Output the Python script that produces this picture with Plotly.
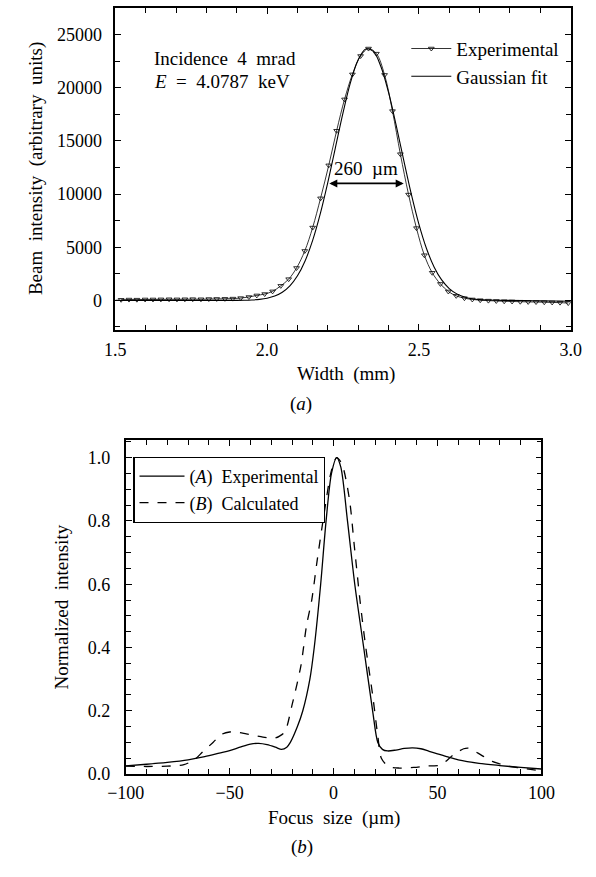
import plotly.graph_objects as go

# ---------------- Panel (a) data ----------------
exp_x = [1.519, 1.545, 1.571, 1.598, 1.624, 1.650, 1.677, 1.703, 1.729, 1.755,
         1.782, 1.808, 1.834, 1.861, 1.887, 1.913, 1.940, 1.966, 1.992, 2.018,
         2.045, 2.071, 2.097, 2.124, 2.150, 2.176, 2.203, 2.229, 2.255, 2.281,
         2.308, 2.334, 2.360, 2.387, 2.413, 2.439, 2.466, 2.492, 2.518, 2.544,
         2.571, 2.597, 2.623, 2.650, 2.676, 2.702, 2.729, 2.755, 2.781, 2.807,
         2.834, 2.860, 2.886, 2.913, 2.939, 2.965, 2.992]
exp_y = [60, 80, 70, 90, 90, 100, 110, 100, 110, 120,
         110, 130, 140, 150, 170, 220, 320, 470, 600, 850,
         1370, 2000, 3050, 4650, 6850, 9600, 12700, 15950, 18900, 21250,
         22980, 23680, 23200, 21200, 17800, 13750, 9950, 6800, 4250, 2600,
         1550, 840, 430, 210, 90, 20, -20, -50, -80, -100,
         -120, -140, -150, -170, -190, -210, -250]

fit_x = [1.500, 1.550, 1.600, 1.650, 1.700, 1.750, 1.800, 1.850, 1.900, 1.925,
         1.950, 1.975, 2.000, 2.025, 2.050, 2.075, 2.100, 2.125, 2.150, 2.175,
         2.200, 2.225, 2.250, 2.275, 2.300, 2.325, 2.350, 2.375, 2.400, 2.425,
         2.450, 2.475, 2.500, 2.525, 2.550, 2.575, 2.600, 2.625, 2.650, 2.675,
         2.700, 2.725, 2.750, 2.800, 2.850, 2.900, 2.950, 3.000]
fit_y = [0, 0, 0, 0, 0, 0, 0, 0, 8, 19,
         44, 98, 205, 406, 765, 1367, 2312, 3708, 5640, 8129,
         11103, 14375, 17640, 20517, 22619, 23635, 23409, 21974, 19553, 16488,
         13180, 9985, 7171, 4880, 3149, 1925, 1116, 613, 319, 158,
         74, 33, 14, 0, -20, -40, -60, -80]

# ---------------- Panel (b) data ----------------
a_x = [-100, -90, -80, -70, -62, -55, -50, -45, -40, -36, -32, -28, -25, -22.5,
       -20.8, -17.4, -14.8, -11.4, -9.3, -6.2, -3.6, -1, 1.5, 3.5, 6.7, 10.2,
       14.5, 18.8, 21.3, 23.5, 26, 30, 34, 38, 42, 46, 50, 55, 60, 70, 80, 90, 100]
a_y = [0.026, 0.031, 0.037, 0.045, 0.055, 0.066, 0.074, 0.085, 0.095, 0.097,
       0.093, 0.085, 0.078, 0.085, 0.10, 0.15, 0.20, 0.30, 0.40, 0.60, 0.80,
       0.95, 1.0, 0.97, 0.80, 0.60, 0.40, 0.20, 0.10, 0.078, 0.073, 0.076,
       0.081, 0.083, 0.080, 0.072, 0.064, 0.054, 0.045, 0.034, 0.027, 0.021, 0.016]

b_x = [-100, -90, -80, -72, -67, -63, -58, -54, -50, -46, -42, -38, -34, -30,
       -28, -26, -23.4, -20, -15.7, -13, -10.5, -8, -4.5, -1, 1.5, 4, 7.6, 10,
       12.7, 15.3, 18.8, 21.3, 23, 26.5, 31.7, 38.6, 45.5, 50.6, 53, 57.5,
       62.6, 65, 69.5, 76.4, 83.3, 90, 100]
b_y = [0.025, 0.024, 0.025, 0.030, 0.045, 0.070, 0.100, 0.125, 0.133, 0.132,
       0.127, 0.122, 0.117, 0.113, 0.114, 0.120, 0.134, 0.218, 0.343, 0.47,
       0.55, 0.67, 0.825, 0.96, 1.0, 0.98, 0.87, 0.72, 0.55, 0.41, 0.25, 0.12,
       0.05, 0.024, 0.019, 0.021, 0.026, 0.027, 0.035, 0.060, 0.080, 0.082,
       0.066, 0.040, 0.026, 0.019, 0.010]

FONT = "Liberation Serif"
W, H = 596, 877
TXT = 19
TICK = 18


def px_x(p):
    return p / W


def px_y(p):
    return 1 - p / H


fig = go.Figure()

fig.add_trace(go.Scatter(
    x=exp_x, y=exp_y, mode="lines+markers", name="Experimental",
    line=dict(color="black", width=0.8, shape="spline"),
    marker=dict(symbol="triangle-down-open", size=5, color="black",
                line=dict(width=0.8)),
    xaxis="x", yaxis="y", legend="legend"))
fig.add_trace(go.Scatter(
    x=fit_x, y=fit_y, mode="lines", name="Gaussian fit",
    line=dict(color="black", width=1.1, shape="spline"),
    xaxis="x", yaxis="y", legend="legend"))

fig.add_trace(go.Scatter(
    x=a_x, y=a_y, mode="lines", name="(<i>A</i>)&nbsp; Experimental",
    line=dict(color="black", width=1.3, shape="spline", smoothing=0.8),
    xaxis="x2", yaxis="y2", legend="legend2"))
fig.add_trace(go.Scatter(
    x=b_x, y=b_y, mode="lines", name="(<i>B</i>)&nbsp; Calculated",
    line=dict(color="black", width=1.3, dash="dash", shape="spline",
              smoothing=0.8),
    xaxis="x2", yaxis="y2", legend="legend2"))

axis_common = dict(
    showline=True, linecolor="black", linewidth=1.6, mirror="ticks",
    ticks="inside", ticklen=6, tickwidth=1.2, tickcolor="black",
    showgrid=False, zeroline=False,
    tickfont=dict(family=FONT, size=TICK, color="black"),
)

fig.update_layout(
    width=W, height=H, autosize=False,
    margin=dict(l=0, r=0, t=0, b=0),
    paper_bgcolor="white", plot_bgcolor="white",
    font=dict(family=FONT, size=TXT, color="black"),
    xaxis=dict(axis_common, domain=[px_x(102), px_x(584)], anchor="y",
               range=[1.5, 3.0], tickvals=[1.5, 2.0, 2.5, 3.0],
               ticktext=["1.5", "2.0", "2.5", "3.0"], ticklabelstandoff=2,
               minor=dict(dtick=0.1, ticks="inside", ticklen=5,
                          tickcolor="black", tickwidth=1.2, showgrid=False)),
    yaxis=dict(axis_common, domain=[px_y(334), px_y(8)], anchor="x",
               range=[-2800, 27500], tickvals=[0, 5000, 10000, 15000, 20000, 25000],
               ticktext=["0", "5000", "10000", "15000", "20000", "25000"],
               ticklabelstandoff=8,
               minor=dict(dtick=2500, tick0=0, ticks="inside", ticklen=5,
                          tickcolor="black", tickwidth=1.2, showgrid=False)),
    xaxis2=dict(axis_common, domain=[px_x(113), px_x(553)], anchor="y2",
                range=[-100, 100], tickvals=[-100, -50, 0, 50, 100],
                ticktext=["\u2212100", "\u221250", "0", "50", "100"],
                ticklabelstandoff=2,
                minor=dict(dtick=10, tick0=0, ticks="inside", ticklen=5,
                           tickcolor="black", tickwidth=1.2, showgrid=False)),
    yaxis2=dict(axis_common, domain=[px_y(783), px_y(445)], anchor="x2",
                range=[0, 1.056], tickvals=[0, 0.2, 0.4, 0.6, 0.8, 1.0],
                ticktext=["0.0", "0.2", "0.4", "0.6", "0.8", "1.0"],
                ticklabelstandoff=10,
                minor=dict(dtick=0.05, tick0=0, ticks="inside", ticklen=5,
                           tickcolor="black", tickwidth=1.2, showgrid=False)),
    legend=dict(x=px_x(410), y=px_y(30), xanchor="left", yanchor="top",
                bgcolor="rgba(0,0,0,0)", borderwidth=0,
                font=dict(family=FONT, size=TXT, color="black"),
                itemwidth=40, tracegroupgap=0),
    legend2=dict(x=px_x(121), y=px_y(462), xanchor="left", yanchor="top",
                 bgcolor="white", bordercolor="black", borderwidth=1.2,
                 font=dict(family=FONT, size=18, color="black"),
                 itemwidth=45, tracegroupgap=0),
    showlegend=True,
)

ann = []
# panel (a) text
ann.append(dict(x=px_x(141), y=px_y(59), xref="paper", yref="paper",
                text="Incidence&nbsp; 4&nbsp; mrad", showarrow=False,
                xanchor="left", yanchor="middle", font=dict(size=TXT)))
ann.append(dict(x=px_x(141), y=px_y(82), xref="paper", yref="paper",
                text="<i>E</i>&nbsp; =&nbsp; 4.0787&nbsp; keV", showarrow=False,
                xanchor="left", yanchor="middle", font=dict(size=TXT)))
# FWHM arrow
ann.append(dict(x=2.45, y=11000, ax=2.20, ay=11000, xref="x", yref="y",
                axref="x", ayref="y", text="", showarrow=True,
                arrowhead=2, arrowside="end+start", arrowsize=1,
                arrowwidth=1.6, arrowcolor="black"))
ann.append(dict(x=2.325, y=12400, xref="x", yref="y", text="260&nbsp; \u00b5m",
                showarrow=False, xanchor="center", yanchor="middle",
                font=dict(size=TXT)))
# axis titles
ann.append(dict(x=px_x(346), y=px_y(378), xref="paper", yref="paper",
                text="Width&nbsp; (mm)", showarrow=False, xanchor="center",
                yanchor="middle", font=dict(size=TXT)))
ann.append(dict(x=px_x(18), y=px_y(171), xref="paper", yref="paper",
                text="Beam&nbsp; intensity&nbsp; (arbitrary&nbsp; units)",
                showarrow=False, textangle=-90, xanchor="center",
                yanchor="middle", font=dict(size=TXT)))
ann.append(dict(x=px_x(298), y=px_y(409), xref="paper", yref="paper",
                text="(<i>a</i>)", showarrow=False, xanchor="center",
                yanchor="middle", font=dict(size=TXT)))
# panel (b) titles
ann.append(dict(x=px_x(333), y=px_y(827), xref="paper", yref="paper",
                text="Focus&nbsp; size&nbsp; (\u00b5m)", showarrow=False,
                xanchor="center", yanchor="middle", font=dict(size=TXT)))
ann.append(dict(x=px_x(46), y=px_y(614), xref="paper", yref="paper",
                text="Normalized&nbsp; intensity", showarrow=False,
                textangle=-90, xanchor="center", yanchor="middle",
                font=dict(size=TXT)))
ann.append(dict(x=px_x(300), y=px_y(857), xref="paper", yref="paper",
                text="(<i>b</i>)", showarrow=False, xanchor="center",
                yanchor="middle", font=dict(size=TXT)))
fig.update_layout(annotations=ann)

fig.write_html("out.html")
